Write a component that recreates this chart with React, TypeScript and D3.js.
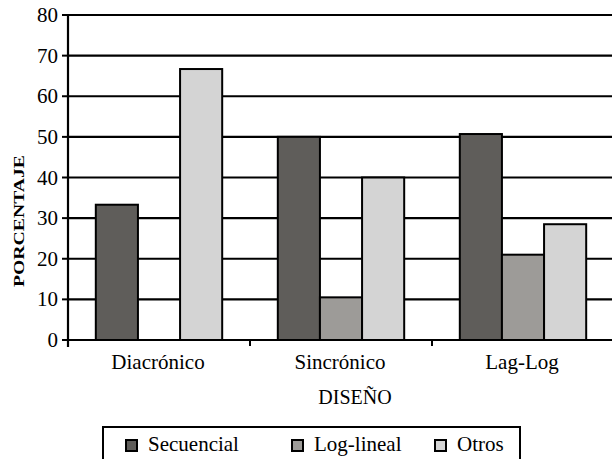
import React from "react";
import * as d3 from "d3";

const categories = ["Diacrónico", "Sincrónico", "Lag-Log"];
const seriesNames = ["Secuencial", "Log-lineal", "Otros"];
const secuencial = [33.3, 50, 50.7];
const logLineal = [0, 10.5, 21];
const otros = [66.7, 40, 28.5];
const yTicks = [0, 10, 20, 30, 40, 50, 60, 70, 80];
const colors = ["#5f5d5a", "#9d9b98", "#d4d4d4"];

const W = 612;
const H = 459;
const left = 68;
const right = 614;
const top = 15;
const bottom = 340;
const FONT = "Liberation Serif";

export default function App() {
  const values = [secuencial, logLineal, otros];
  const x = d3.scaleBand<string>().domain(categories).range([left, right]);
  const inner = d3
    .scaleBand<string>()
    .domain(seriesNames)
    .range([0, x.bandwidth()])
    .paddingOuter(0.66)
    .paddingInner(0);
  const y = d3.scaleLinear().domain([0, 80]).range([bottom, top]);

  return (
    <svg width={W} height={H} style={{ position: "absolute", left: 0, top: 0, background: "#fff" }}>
      {yTicks.map((t) =>
        t > 0 ? (
          <line key={"g" + t} x1={left} x2={right} y1={y(t)} y2={y(t)} stroke="#000" strokeWidth={2.2} />
        ) : null
      )}
      {categories.map((c, ci) =>
        seriesNames.map((s, si) => {
          const v = values[si][ci];
          if (!v) return null;
          return (
            <rect
              key={c + s}
              x={(x(c) as number) + (inner(s) as number)}
              y={y(v)}
              width={inner.bandwidth()}
              height={y(0) - y(v)}
              fill={colors[si]}
              stroke="#000"
              strokeWidth={2}
            />
          );
        })
      )}
      <line x1={left} x2={right} y1={bottom} y2={bottom} stroke="#000" strokeWidth={2.2} />
      {categories.map((c) => (
        <line
          key={"xt" + c}
          x1={x(c) as number}
          x2={x(c) as number}
          y1={bottom}
          y2={bottom + 6}
          stroke="#000"
          strokeWidth={2}
        />
      ))}
      {categories.map((c) => (
        <text
          key={"xl" + c}
          x={(x(c) as number) + x.bandwidth() / 2 - 1}
          y={369}
          textAnchor="middle"
          style={{ fontFamily: FONT, fontSize: "21px" }}
        >
          {c}
        </text>
      ))}
      <line x1={left} x2={left} y1={top - 1} y2={bottom + 7} stroke="#000" strokeWidth={2.2} />
      {yTicks.map((t) => (
        <g key={"yt" + t}>
          <line x1={left - 6} x2={left} y1={y(t)} y2={y(t)} stroke="#000" strokeWidth={2} />
          <text x={58} y={y(t) + 7} textAnchor="end" style={{ fontFamily: FONT, fontSize: "21px" }}>
            {t}
          </text>
        </g>
      ))}
      <text
        transform={`translate(24,221) rotate(-90)`}
        textAnchor="middle"
        style={{ fontFamily: FONT, fontSize: "15px", fontWeight: "bold" }}
        textLength={132}
        lengthAdjust="spacingAndGlyphs"
      >
        PORCENTAJE
      </text>
      <text x={355} y={404} textAnchor="middle" style={{ fontFamily: FONT, fontSize: "20px" }}>
        DISEÑO
      </text>
      <rect x={103} y={427} width={417} height={40} fill="#fff" stroke="#000" strokeWidth={2} />
      {seriesNames.map((s, i) => {
        const xs = [126, 292, 435][i];
        return (
          <g key={"lg" + s}>
            <rect x={xs} y={440} width={11} height={11} fill={colors[i]} stroke="#000" strokeWidth={2} />
            <text x={xs + 22} y={451} style={{ fontFamily: FONT, fontSize: "21px" }}>
              {s}
            </text>
          </g>
        );
      })}
    </svg>
  );
}
